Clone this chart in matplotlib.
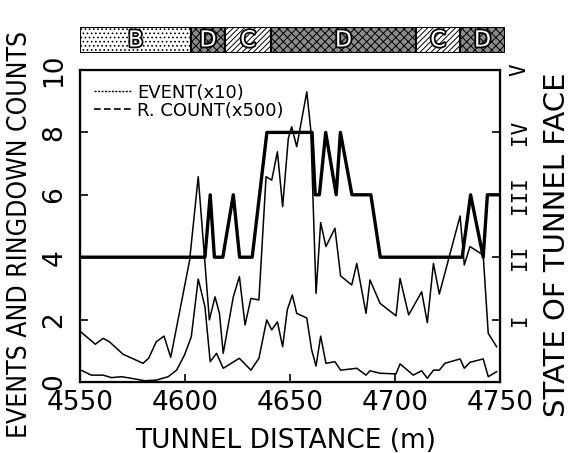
import matplotlib.pyplot as plt
from matplotlib.lines import Line2D
from matplotlib.patches import Rectangle
import matplotlib.patheffects as pe

# ringdown counts (x500), upper thin line
d_rc = [4550.5, 4557.3, 4561, 4564, 4570.5, 4580, 4582.7, 4586.3, 4590, 4593.2,
        4602.2, 4606.3, 4611.6, 4614.3, 4616.4, 4618.2, 4623, 4625.9, 4628.6, 4631.4,
        4635.2, 4638.6, 4641.3, 4644, 4646.5, 4649.2, 4650.8, 4653.2, 4658, 4659.9,
        4662.4, 4664.6, 4667.1, 4671.4, 4674.1, 4679.4, 4681.8, 4686.2, 4688.1, 4692.9,
        4700.5, 4702.4, 4706.5, 4712.7, 4715.4, 4718.3, 4721.1, 4731, 4733, 4735.7,
        4742, 4744.4, 4748.4]
v_rc = [1.60, 1.21, 1.40, 1.29, 0.89, 0.60, 0.76, 1.29, 1.47, 0.79,
        3.90, 6.58, 1.99, 2.73, 2.20, 0.92, 2.73, 3.38, 1.83, 2.68,
        2.63, 6.58, 6.47, 7.38, 5.62, 7.81, 8.18, 7.54, 9.30, 8.08,
        2.84, 5.11, 4.34, 4.93, 3.40, 3.11, 3.80, 2.20, 3.27, 2.52,
        2.12, 3.32, 2.15, 2.89, 1.90, 3.80, 2.82, 5.32, 3.75, 4.34,
        4.07, 1.56, 1.13]

# events (x10), lower thin line
d_ev = [4550.5, 4555.4, 4561, 4565, 4569.7, 4574.4, 4580.8, 4586.3, 4592, 4596,
        4599.8, 4603, 4606.3, 4609.5, 4612, 4615, 4618.2, 4625.9, 4631.4, 4635.2,
        4638.9, 4641.3, 4644, 4646.5, 4648.7, 4651.1, 4653.2, 4658, 4660.3, 4662.4,
        4664.6, 4667.1, 4671.4, 4674.1, 4681.8, 4686.2, 4688.1, 4692.9, 4700.5, 4702.4,
        4706.8, 4708.7, 4712.7, 4715.4, 4718.3, 4721.1, 4723.8, 4731, 4733, 4735.7,
        4742, 4744.4, 4748.4]
v_ev = [0.38, 0.22, 0.22, 0.14, 0.17, 0.12, 0.04, 0.06, 0.17, 0.38,
        0.87, 1.45, 3.30, 2.41, 0.65, 0.92, 0.44, 0.76, 0.38, 0.76,
        1.99, 1.67, 1.93, 1.13, 2.31, 2.79, 2.20, 2.05, 1.03, 0.51,
        1.47, 0.60, 0.65, 0.38, 0.44, 0.22, 0.36, 0.28, 0.26, 0.58,
        0.33, 0.22, 0.36, 0.12, 0.38, 0.38, 0.60, 0.74, 0.44, 0.63,
        0.74, 0.17, 0.33]

# state of tunnel face (right axis, I..V)
d_st = [4550, 4609.5, 4612, 4614, 4618, 4623, 4626, 4632, 4639, 4660.5, 4662, 4664,
        4667, 4672, 4674, 4679.5, 4688.5, 4693, 4732, 4736, 4742, 4744, 4750]
v_st = [2, 2, 3, 2, 2, 3, 2, 2, 4, 4, 3, 3, 4, 3, 4, 3, 3, 2, 2, 3, 2, 3, 3]
roman = ['I', 'II', 'III', 'IV', 'V']

# rock class band on top
band_edges = [4550, 4603, 4619, 4641, 4710, 4731, 4752.4]
band_cls = ['B', 'D', 'C', 'D', 'C', 'D']

plt.rcParams['font.family'] = ['DejaVu Sans']
plt.rcParams['hatch.linewidth'] = 0.7

fig = plt.figure(figsize=(5.73, 4.53), dpi=100)
W, H = 573, 453
ax = fig.add_axes([80/W, 1-382/H, 420/W, 312/H])
ax.plot(d_rc, v_rc, color='black', lw=1.1)
ax.plot(d_ev, v_ev, color='black', lw=1.1)
ax.set_xlim(4550, 4750)
ax.set_ylim(0, 10)
ax.set_xticks([4550, 4600, 4650, 4700, 4750])
ax.set_yticks([0, 2, 4, 6, 8, 10])
ax.tick_params(direction='in', length=6, width=1.2, labelsize=19)
ax.tick_params(axis='x', pad=6)
ax.tick_params(axis='y', pad=9)
for lab in ax.get_yticklabels():
    lab.set_rotation(90)
    lab.set_va('center')
for s in ax.spines.values():
    s.set_linewidth(1.6)

ax2 = ax.twinx()
ax2.plot(d_st, v_st, color='black', lw=2.4)
ax2.set_ylim(0, 5)
ax2.set_yticks([1, 2, 3, 4, 5])
ax2.set_yticklabels(roman, rotation=90, va='center', family='DejaVu Sans Mono', fontsize=15)
ax2.tick_params(direction='in', length=6, width=1.2, pad=7)

h = [Line2D([], [], color='black', lw=1.0, dashes=(1.5, 1)),
     Line2D([], [], color='black', lw=1.2, dashes=(4, 2))]
ax.legend(h, ['EVENT(x10)', 'R. COUNT(x500)'], loc='upper left', frameon=False,
          prop={'size': 13}, handlelength=2.1,
          handletextpad=0.3, labelspacing=0.0, borderaxespad=0.35)

fig.text(286/W, 1-441/H, 'TUNNEL DISTANCE (m)', fontsize=19, ha='center', va='center')
fig.text(20/W, 1-234/H, 'EVENTS AND RINGDOWN COUNTS', fontsize=19, rotation=90,
         ha='center', va='center', fontstretch='condensed')
fig.text(557/W, 1-245/H, 'STATE OF TUNNEL FACE', fontsize=21, rotation=90,
         ha='center', va='center')

# band
band = fig.add_axes([80/W, 1-53/H, 425/W, 26/H])
band.set_xlim(band_edges[0], band_edges[-1])
band.set_ylim(0, 1)
band.axis('off')
styles = {'B': ('white', '....'), 'C': ('white', '//////'), 'D': ('#8c8c8c', 'xxxx')}
for i, c in enumerate(band_cls):
    fc, hatch = styles[c]
    x0, x1 = band_edges[i], band_edges[i+1]
    band.add_patch(Rectangle((x0, 0), x1-x0, 1, facecolor=fc, edgecolor='black',
                             hatch=hatch, lw=1.5))
    t = band.text((x0+x1)/2, 0.48, c, ha='center', va='center', fontsize=16,
                  color='white')
    t.set_path_effects([pe.withStroke(linewidth=2.5, foreground='black')])

fig.savefig('out.png', dpi=100)
